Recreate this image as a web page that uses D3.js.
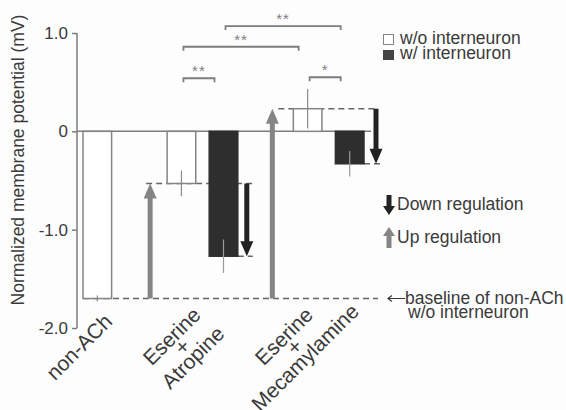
<!DOCTYPE html>
<html>
<head>
<meta charset="utf-8">
<script src="https://cdn.jsdelivr.net/npm/d3@7"></script>
<style>
  body { margin: 0; background: #fdfdfd; }
  svg { display: block; font-family: "Liberation Sans", Arial, sans-serif; }
  .txt { fill: #3a3a3a; }
</style>
</head>
<body>
<svg id="chart" width="566" height="410"></svg>
<script>
// data
const categories = [["non-ACh"], ["Eserine", "+", "Atropine"], ["Eserine", "+", "Mecamylamine"]];
const woValues = [-1.70, -0.53, 0.23];   // w/o interneuron
const woErrors = [0.03, 0.13, 0.20];
const wValues = [null, -1.27, -0.33];     // w/ interneuron
const wErrors = [null, 0.17, 0.13];
const yTicks = [1.0, 0, -1.0, -2.0];
const tickLabels = ["1.0", "0", "-1.0", "-2.0"];
// significance: [left bar key, right bar key, level, stars]
const sigPairs = [
  ["1wo", "1w", 0.54, "**"],
  ["1wo", "2wo", 0.86, "**"],
  ["1w", "2w", 1.07, "**"],
  ["2wo", "2w", 0.55, "*"]
];

const svg = d3.select('#chart');

// bar slots: each category's bars followed by a gap slot
const slots = [];
categories.forEach((c, i) => {
  slots.push(i + 'wo');
  if (wValues[i] !== null) slots.push(i + 'w');
  if (i < categories.length - 1) slots.push('gap' + i);
});

const x = d3.scaleBand().domain(slots).range([83, 364]).paddingInner(0.32).paddingOuter(0);
const y = d3.scaleLinear().domain([-2, 1]).range([328, 33]);
const bw = x.bandwidth();
const cx = k => x(k) + bw / 2;

const grey = '#7d7d7d';
const dark = '#2e2e2e';

function arrowPath(xc, y0, y1, sw, hw, hh) {
  const s = Math.sign(y1 - y0);
  const yb = y1 - s * hh;
  return `M${xc - sw / 2},${y0}L${xc - sw / 2},${yb}L${xc - hw / 2},${yb}L${xc},${y1}` +
    `L${xc + hw / 2},${yb}L${xc + sw / 2},${yb}L${xc + sw / 2},${y0}Z`;
}

// arrow positions, relative to the bars
const up1 = x('1wo') - 17, up2 = x('2wo') - 21;
const dn1 = x('1w') + bw + 9, dn2 = x('2w') + bw + 12;

// dashed reference lines
const dashes = [
  [x('0wo'), 378, woValues[0]],
  [up1 - 4, dn1 + 6, woValues[1]],
  [x('1w') + bw, dn1 + 6, wValues[1]],
  [up2 + 6, dn2 + 2, woValues[2]],
  [x('2w') + bw, dn2 + 7, wValues[2]]
];
svg.append('g').selectAll('line').data(dashes).join('line')
  .attr('x1', d => d[0]).attr('x2', d => d[1])
  .attr('y1', d => y(d[2])).attr('y2', d => y(d[2]))
  .attr('stroke', '#666').attr('stroke-width', 1.4).attr('stroke-dasharray', '6,4');

// zero line
svg.append('line')
  .attr('x1', 77).attr('x2', 371).attr('y1', y(0)).attr('y2', y(0))
  .attr('stroke', grey).attr('stroke-width', 1.5);

// y axis
const yAxis = svg.append('g').attr('transform', 'translate(77,0)')
  .call(d3.axisLeft(y).tickValues(yTicks).tickSize(5).tickFormat((d, i) => tickLabels[i]));
yAxis.select('.domain').attr('stroke', grey).attr('stroke-width', 1.5).attr('d', `M0,${y(1)}V${y(-2)}`);
yAxis.selectAll('.tick line').attr('stroke', grey).attr('stroke-width', 1.5);
yAxis.selectAll('.tick text').attr('class', 'txt').attr('x', -9)
  .style('font-size', '17px').style('font-family', '"Liberation Sans", Arial, sans-serif');

svg.append('text').attr('class', 'txt')
  .attr('transform', 'translate(24,160) rotate(-90)')
  .attr('text-anchor', 'middle').style('font-size', '17.5px')
  .text('Normalized membrane potential (mV)');

// arrows (drawn under the bars)
const arrows = [
  [up1, woValues[0], woValues[1], '#858585'],
  [up2, woValues[0], woValues[2], '#858585'],
  [dn1, woValues[1], wValues[1], '#222'],
  [dn2, woValues[2], wValues[2], '#222']
];
svg.append('g').selectAll('path').data(arrows).join('path')
  .attr('d', d => arrowPath(d[0], y(d[1]), y(d[2]), 5, 13, 15))
  .attr('fill', d => d[3]);

// bars
const bars = [];
categories.forEach((c, i) => {
  bars.push({ key: i + 'wo', v: woValues[i], e: woErrors[i], fill: '#fff', stroke: '#858585' });
  if (wValues[i] !== null) bars.push({ key: i + 'w', v: wValues[i], e: wErrors[i], fill: dark, stroke: dark });
});
svg.append('g').selectAll('rect').data(bars).join('rect')
  .attr('x', d => x(d.key)).attr('width', bw)
  .attr('y', d => y(Math.max(0, d.v))).attr('height', d => Math.abs(y(d.v) - y(0)))
  .attr('fill', d => d.fill).attr('stroke', d => d.stroke).attr('stroke-width', 1.5);

// error bars
svg.append('g').selectAll('line').data(bars).join('line')
  .attr('x1', d => cx(d.key)).attr('x2', d => cx(d.key))
  .attr('y1', d => y(d.v + d.e)).attr('y2', d => y(d.v - d.e))
  .attr('stroke', d => d.fill === '#fff' ? '#8a8a8a' : '#9a9a9a').attr('stroke-width', 1.2);

// significance brackets
const sg = svg.append('g').selectAll('g').data(sigPairs).join('g');
sg.append('path')
  .attr('d', d => {
    const x1 = cx(d[0]) + 2, x2 = cx(d[1]) - 9, yy = y(d[2]);
    return `M${x1},${yy + 4}V${yy}H${x2}V${yy + 4}`;
  })
  .attr('fill', 'none').attr('stroke', grey).attr('stroke-width', 1.8);
sg.append('text')
  .attr('x', d => (cx(d[0]) + 2 + cx(d[1]) - 9) / 2).attr('y', d => y(d[2]) - 2)
  .attr('text-anchor', 'middle').attr('fill', '#808080')
  .style('font-size', '15px').style('letter-spacing', '1px')
  .text(d => d[3]);

// category labels
const labelDx = [-18, -20, -34];
const groupCenter = i => {
  const l = x(i + 'wo');
  const r = wValues[i] !== null ? x(i + 'w') + bw : l + bw;
  return (l + r) / 2;
};
const cl = svg.append('g').selectAll('text').data(categories).join('text')
  .attr('class', 'txt')
  .attr('transform', (d, i) => `translate(${groupCenter(i) + labelDx[i]},347) rotate(-45)`)
  .attr('text-anchor', 'middle').style('font-size', '21px');
cl.selectAll('tspan').data(d => d).join('tspan')
  .attr('x', 0)
  .attr('y', (t, j, n) => (j - (n.length - 1) / 2) * 15 + 7)
  .text(t => t);

// legend
const lg = svg.append('g');
lg.append('rect').attr('x', 383.5).attr('y', 34.5).attr('width', 10).attr('height', 10)
  .attr('fill', '#fff').attr('stroke', '#858585').attr('stroke-width', 1);
lg.append('rect').attr('x', 383).attr('y', 50).attr('width', 11).attr('height', 10)
  .attr('fill', '#444');
lg.append('text').attr('class', 'txt').attr('x', 400).attr('y', 44).style('font-size', '17.5px').text('w/o interneuron');
lg.append('text').attr('class', 'txt').attr('x', 400).attr('y', 59).style('font-size', '17.5px').text('w/ interneuron');

lg.append('path').attr('d', arrowPath(389, 195, 215, 5, 12, 9)).attr('fill', '#222');
lg.append('text').attr('class', 'txt').attr('x', 397).attr('y', 210).style('font-size', '17.5px').text('Down regulation');
lg.append('path').attr('d', arrowPath(389, 248, 227, 5, 12, 9)).attr('fill', '#858585');
lg.append('text').attr('class', 'txt').attr('x', 397).attr('y', 243).style('font-size', '17.5px').text('Up regulation');

// baseline note
const by = y(woValues[0]);
lg.append('path').attr('d', `M405,${by}H388M392,${by - 3}L388,${by}L392,${by + 3}`)
  .attr('fill', 'none').attr('stroke', '#3a3a3a').attr('stroke-width', 1.2);
lg.append('text').attr('class', 'txt').attr('x', 405).attr('y', 304).style('font-size', '17.5px').text('baseline of non-ACh');
lg.append('text').attr('class', 'txt').attr('x', 408).attr('y', 318).style('font-size', '17.5px').text('w/o interneuron');
</script>
</body>
</html>
